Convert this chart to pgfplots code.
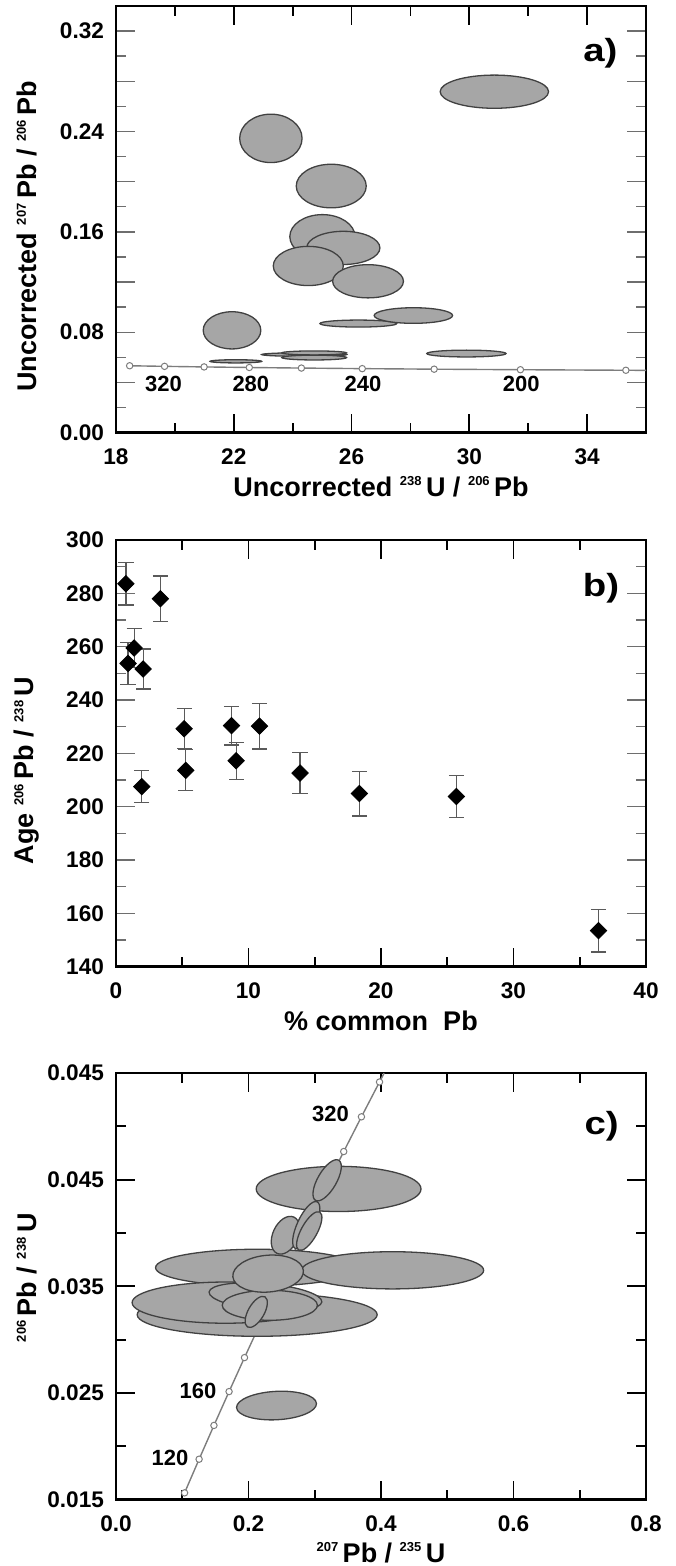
\documentclass[border=0pt]{standalone}
\usepackage{fontspec}
\setmainfont{Liberation Sans}
\usepackage{pgfplots}
\pgfplotsset{compat=1.18}

\definecolor{ellfill}{RGB}{166,166,166}
\definecolor{elldraw}{RGB}{65,65,65}
\definecolor{conc}{RGB}{125,125,125}
\definecolor{errgray}{RGB}{90,90,90}
\definecolor{ytickgray}{RGB}{110,110,110}

% small isotope superscript
\newcommand{\iso}[1]{\raisebox{0.75ex}{\fontsize{6.5}{6.5}\selectfont #1}\,}

% error ellipse as a plot mark: radii in pt, angle in degrees
\pgfdeclareplotmark{ell}{%
  \begin{pgfscope}
  \pgftransformrotate{\eang}%
  \pgfpathellipse{\pgfpointorigin}{\pgfqpoint{\erx pt}{0pt}}{\pgfqpoint{0pt}{\ery pt}}%
  \pgfusepathqfillstroke
  \end{pgfscope}}

\tikzset{
  tag/.style={font=\fontsize{16}{16}\selectfont\bfseries},
  agelab/.style={font=\fontsize{11}{11}\selectfont\bfseries},
}
\newcommand{\tagtext}[1]{\scalebox{1.2}[1.0]{#1}}

\pgfplotsset{
  panel/.style={
    scale only axis, width=265pt, height=213.3pt,
    anchor=north west,
    axis line style={line width=1.4pt},
    every tick/.style={line width=0.9pt, black},
    major tick length=9.5pt, minor tick length=5pt,
    tick align=inside,
    tick label style={font=\fontsize{11.3}{11.3}\selectfont\bfseries},
    label style={font=\fontsize{13.5}{13.5}\selectfont\bfseries},
    /pgf/number format/assume math mode=true,
    scaled ticks=false,
    xticklabel style={anchor=center, yshift=-12pt},
    yticklabel style={anchor=east, xshift=-2.5pt},
    xlabel style={at={(axis description cs:0.5,0)}, anchor=center, yshift=-27pt},
    ylabel style={at={(axis description cs:-0.168,0.46)}, anchor=center},
    clip=false,
  },
  grayy/.style={
    major y tick style={line width=0.7pt, ytickgray},
    minor y tick style={line width=0.7pt, ytickgray},
  },
  ellplot/.style={
    only marks, scatter, mark=ell,
    scatter/use mapped color={draw=elldraw, fill=ellfill},
    mark options={line width=0.65pt},
    visualization depends on={value \thisrow{rx}\as\erx},
    visualization depends on={value \thisrow{ry}\as\ery},
    visualization depends on={value \thisrow{ang}\as\eang},
  },
  concline/.style={conc, line width=0.7pt, mark=none},
  concdots/.style={only marks, mark=*, mark size=1.6pt,
    mark options={draw=conc, fill=white, line width=0.5pt}},
}

\begin{document}
\begin{tikzpicture}
\useasboundingbox (0,0) rectangle (337.5pt,-783pt);

% ---------------- a) Tera-Wasserburg
\begin{axis}[panel, grayy, at={(58pt,-3pt)},
  xmin=18, xmax=36, ymin=0, ymax=0.34,
  xtick={18,22,26,30,34}, xticklabels={18,22,26,30,34},
  minor xtick={20,24,28,32},
  ytick={0,0.04,0.08,0.12,0.16,0.20,0.24,0.28,0.32},
  yticklabels={0.00,,0.08,,0.16,,0.24,,0.32},
  minor ytick={0.02,0.06,0.10,0.14,0.18,0.22,0.26,0.30},
  xlabel={Uncorrected \iso{238}U / \iso{206}Pb},
  ylabel={Uncorrected \iso{207}Pb / \iso{206}Pb},
]
\addplot[concline] coordinates {
  (18.464,0.05327) (19.649,0.05280) (20.992,0.05234) (22.527,0.05188)
  (24.297,0.05143) (26.363,0.05098) (28.805,0.05054) (31.735,0.05011)
  (35.316,0.04968) (36.0,0.04961)
};
\addplot[concdots] coordinates {
  (18.464,0.05327) (19.649,0.05280) (20.992,0.05234) (22.527,0.05188)
  (24.297,0.05143) (26.363,0.05098) (28.805,0.05054) (31.735,0.05011)
  (35.316,0.04968)
};
\addplot[ellplot] table {
x      y       rx    ry    ang
30.85  0.2717  27.1  8.3   0
23.26  0.2345  15.6  12.1  0
25.31  0.1965  17.5  10.9  0
25.01  0.1562  16.3  11.0  0
25.72  0.1472  18.3  8.3   0
24.53  0.1328  17.5  9.8   0
26.56  0.1206  17.7  8.3   0
21.94  0.0815  14.4  9.3   0
26.23  0.0869  19.2  1.75  0
28.10  0.0933  19.6  3.9   0
24.39  0.0622  21.2  0.9   0
24.73  0.0635  16.2  1.0   0
24.73  0.0598  16.2  1.2   0
22.07  0.0568  12.9  0.8   0
29.90  0.0630  19.8  1.7   0
};
\node[agelab] at (axis cs:19.61,0.0385) {320};
\node[agelab] at (axis cs:22.58,0.0385) {280};
\node[agelab] at (axis cs:26.39,0.0385) {240};
\node[agelab] at (axis cs:31.76,0.0385) {200};
\node[tag] at (axis cs:34.45,0.3025) {\tagtext{a)}};
\end{axis}

% ---------------- b) age vs common Pb
\begin{axis}[panel, grayy, at={(58pt,-270pt)},
  xmin=0, xmax=40, ymin=140, ymax=300,
  xtick={0,10,20,30,40}, xticklabels={0,10,20,30,40},
  minor xtick={5,15,25,35},
  ytick={140,160,180,200,220,240,260,280,300},
  yticklabels={140,160,180,200,220,240,260,280,300},
  minor ytick={150,170,190,210,230,250,270,290},
  xlabel={\% common\ \ Pb},
  ylabel={Age \iso{206}Pb / \iso{238}U},
]
\addplot[only marks, mark=square*, mark size=2.9pt,
  mark options={rotate=45, fill=black, draw=black},
  error bars/.cd, y dir=both, y explicit,
  error bar style={line width=0.6pt, errgray},
  error mark options={rotate=90, mark size=3.8pt, line width=0.6pt, errgray},
] table[x=x, y=y, y error=e] {
x      y      e
0.75   283.6  8.0
3.35   278.0  8.5
1.37   259.5  7.2
0.91   253.7  8.0
2.05   251.6  7.5
1.95   207.5  6.0
5.14   229.2  7.5
5.27   213.6  7.7
8.72   230.4  7.3
9.07   217.2  7.0
10.83  230.2  8.6
13.89  212.6  7.8
18.37  204.9  8.4
25.69  203.8  8.0
36.42  153.5  8.0
};
\node[tag] at (axis cs:36.6,281.8) {\tagtext{b)}};
\end{axis}

% ---------------- c) Wetherill concordia
\begin{axis}[panel, at={(58pt,-536.5pt)},
  xmin=0, xmax=0.8, ymin=0.015, ymax=0.055,
  xtick={0,0.2,0.4,0.6,0.8}, xticklabels={0.0,0.2,0.4,0.6,0.8},
  minor xtick={0.1,0.3,0.5,0.7},
  ytick={0.015,0.025,0.035,0.045,0.055},
  yticklabels={0.015,0.025,0.035,0.045,0.045},
  minor ytick={0.020,0.030,0.040,0.050},
  xlabel={\iso{207}Pb / \iso{235}U},
  ylabel={\iso{206}Pb / \iso{238}U},
  xlabel style={yshift=0.5pt},
  ylabel style={at={(axis description cs:-0.168,0.52)}},
]
\addplot[concline] coordinates {
  (0.10350,0.015633) (0.12545,0.018789) (0.14784,0.021955) (0.17068,0.025131)
  (0.19396,0.028316) (0.21772,0.031511) (0.24191,0.034716) (0.26665,0.037932)
  (0.29185,0.041157) (0.31755,0.044392) (0.34376,0.047637) (0.37049,0.050893)
  (0.39778,0.054158) (0.40462,0.054976)
};
\addplot[concdots] coordinates {
  (0.10350,0.015633) (0.12545,0.018789) (0.14784,0.021955) (0.17068,0.025131)
  (0.19396,0.028316) (0.34376,0.047637) (0.37049,0.050893) (0.39778,0.054158)
};
\addplot[ellplot] table {
x       y        rx    ry    ang
0.2131  0.03675  50.8  9.2   0
0.4176  0.03650  45.5  9.3   0
0.2131  0.03234  60.0  10.8  0
0.1653  0.03347  46.7  10.3  0
0.2256  0.03400  28.3  6.7   -5
0.2322  0.03322  23.8  7.5   0
0.2296  0.03619  17.7  9.2   5
0.2117  0.03260  8.7   4.0   60
0.3360  0.04413  41.2  11.3  0
0.3187  0.04494  11.6  4.7   60
0.2558  0.03979  10.0  6.3   65
0.2872  0.04073  12.9  4.5   65
0.2917  0.04018  10.9  4.0   61
0.2423  0.02382  20.0  7.1   3
};
\node[agelab] at (axis cs:0.3237,0.0512) {320};
\node[agelab] at (axis cs:0.1238,0.0252) {160};
\node[agelab] at (axis cs:0.0814,0.0189) {120};
\node[tag] at (axis cs:0.733,0.0500) {\tagtext{c)}};
\end{axis}
\end{tikzpicture}
\end{document}
